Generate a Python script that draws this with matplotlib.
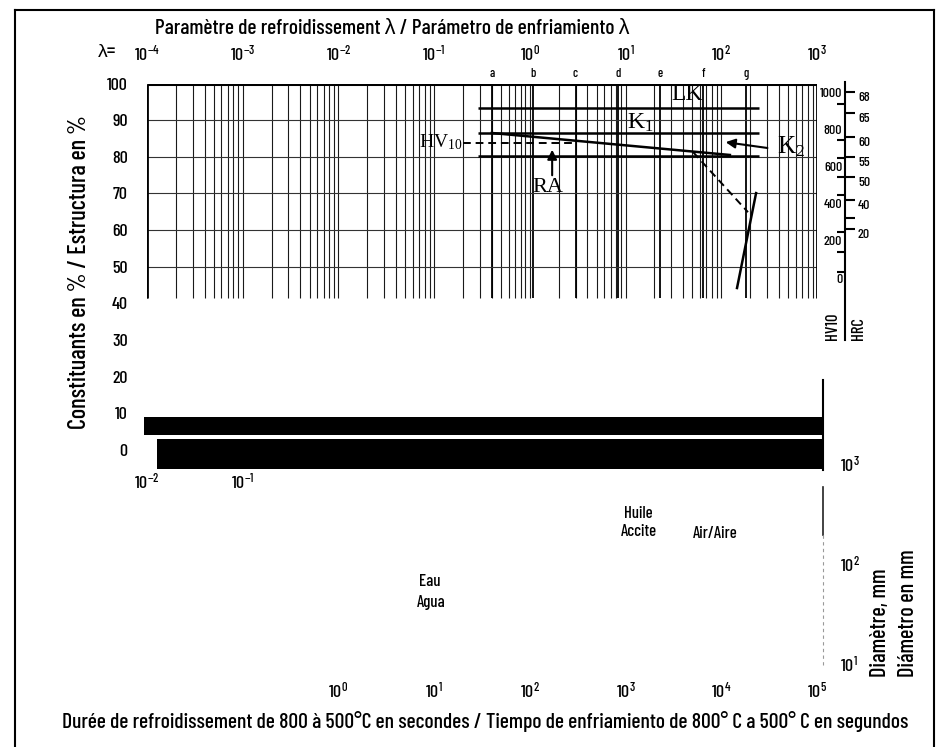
import numpy as np
import matplotlib
matplotlib.use("Agg")
import matplotlib.pyplot as plt
from matplotlib.ticker import LogLocator, FixedLocator, NullLocator
from matplotlib.transforms import blended_transform_factory
from matplotlib.lines import Line2D

plt.rcParams['font.family'] = ['Barlow Condensed', 'Liberation Sans', 'DejaVu Sans']
plt.rcParams['font.weight'] = 'medium'
plt.rcParams['mathtext.default'] = 'regular'

W, H = 940, 747

def fx(x):
    return x / W

def fy(y):
    return 1 - y / H

# --- Daten ---
lam_decades = [1e-4, 1e-3, 1e-2, 1e-1, 1e0, 1e1, 1e2, 1e3]
lam_labels = ['$10^{-4}$', '$10^{-3}$', '$10^{-2}$', '$10^{-1}$', '$10^{0}$', '$10^{1}$', '$10^{2}$', '$10^{3}$']
y_ticks = [0, 10, 20, 30, 40, 50, 60, 70, 80, 90, 100]
grid_y = [50, 60, 70, 80, 90]

letters = ['a', 'b', 'c', 'd', 'e', 'f', 'g']
letter_lam = [0.40, 1.08, 3.0, 8.4, 23, 65, 180]

# Linien LK / K1 / K2 (Grenzen)
zone_levels = [93.3, 86.5, 80.2]
zone_lam = [0.29, 250]

# Kurven
slope_lam = [0.40, 123]
slope_val = [86.5, 80.5]
hv_dash_lam = [0.20, 2.97]
hv_dash_val = [83.8, 83.8]
drop_lam = [50.7, 190]
drop_val = [81.3, 64.9]
steep_lam = [146, 231]
steep_val = [44.2, 70.1]

# Schwarze Balken (Scan)
band_lam0 = [10 ** -4.03, 10 ** -3.9]
band_lam1 = [1.13e3, 1.13e3]
band_top = [9.0, 3.0]
band_bot = [4.1, -5.2]

# Zeitachse (s) = lambda * 100
time_decades_low = [1e-2, 1e-1]
time_labels_low = ['$10^{-2}$', '$10^{-1}$']
time_decades = [1e0, 1e1, 1e2, 1e3, 1e4, 1e5]
time_labels = ['$10^{0}$', '$10^{1}$', '$10^{2}$', '$10^{3}$', '$10^{4}$', '$10^{5}$']

# Haerte-Skalen
hv_major = [0, 200, 400, 600, 800, 1000]
hv_minor = [1000, 935, 742, 645, 543, 446, 247, 140, 32]
hrc_pos = [1000, 887, 758, 650, 543, 419, 323, 263]
hrc_labels = ['68', '65', '60', '55', '50', '40', '', '20']

# Durchmesser
dia_ticks = [1e1, 1e2, 1e3]
dia_labels = ['$10^{1}$', '$10^{2}$', '$10^{3}$']

fig = plt.figure(figsize=(9.4, 7.47), dpi=100)

# Rahmen
for seg in [([15, 15], [10, 747]), ([15, 934], [10, 10]), ([934, 934], [10, 747])]:
    fig.add_artist(Line2D([fx(v) for v in seg[0]], [fy(v) for v in seg[1]], color='black', lw=1.5))

ax = fig.add_axes([fx(147), fy(472), (817 - 147) / W, (472 - 83.5) / H])
ax.set_xscale('log')
ax.set_xlim(1e-4, 1e3)
ax.set_ylim(-6, 100)
for s in ax.spines.values():
    s.set_visible(False)
ax.xaxis.set_major_locator(NullLocator())
ax.xaxis.set_minor_locator(NullLocator())
ax.set_yticks(y_ticks)
ax.tick_params(axis='y', length=0, pad=14, labelsize=13)
ax.patch.set_alpha(0)

# Gitter
gpos = LogLocator(base=10, subs=np.arange(1, 10)).tick_values(1e-4, 1e3)
gpos = gpos[(gpos >= 1e-4) & (gpos <= 1e3)]
ax.vlines(gpos, 41.6, 100, color='#1a1a1a', lw=0.8)
ax.vlines(letter_lam, 41.6, 100, color='black', lw=1.3)
ax.hlines(grid_y, 1e-4, 1e3, color='#333333', lw=0.8)
ax.hlines(100, 1e-4, 1e3, color='black', lw=2.2)
ax.vlines([1e-4, 1e3], 41.6, 100, color='black', lw=2)

# Zonen
ax.hlines(zone_levels, zone_lam[0], zone_lam[1], color='black', lw=1.8)
ax.plot(slope_lam, slope_val, color='black', lw=1.8)
ax.plot(hv_dash_lam, hv_dash_val, color='black', lw=1.4, dashes=(4, 2.5))
ax.plot(drop_lam, drop_val, color='black', lw=1.4, dashes=(4, 2.5))
ax.plot(steep_lam, steep_val, color='black', lw=1.8)

# Balken
for l0, l1, t, b in zip(band_lam0, band_lam1, band_top, band_bot):
    ax.fill_between([l0, l1], [b, b], [t, t], color='black', lw=0, clip_on=False)

# Beschriftungen im Diagramm
serif = 'Liberation Serif'
ax.text(44, 96.9, 'LK', family=serif, fontsize=17, ha='center', va='center')
ax.text(14.1, 89.2, 'K$_1$', family=serif, fontsize=17, ha='center', va='center')
ax.text(383, 82.7, 'K$_2$', family=serif, fontsize=18, ha='left', va='center', clip_on=False)
ax.text(0.196, 84.0, 'HV$_{10}$', family=serif, fontsize=14, ha='right', va='center')
ax.text(1.55, 71.5, 'RA', family=serif, fontsize=16, ha='center', va='center')
ax.annotate('', xy=(1.71, 82.7), xytext=(1.71, 74.2),
            arrowprops=dict(arrowstyle='-|>', color='black', lw=1.5, mutation_scale=14))
ax.annotate('', xy=(104, 84.1), xytext=(324, 82.3), annotation_clip=False,
            arrowprops=dict(arrowstyle='-|>', color='black', lw=1.5, mutation_scale=14))

for l, t in zip(letter_lam, letters):
    ax.text(l, 102.6, t, fontsize=9, ha='center', va='center', clip_on=False)

bt = blended_transform_factory(ax.transData, fig.transFigure)
for d, t in zip(lam_decades, lam_labels):
    ax.text(d, fy(53), t, transform=bt, fontsize=13, ha='center', va='center')
for d, t in zip(time_decades_low, time_labels_low):
    ax.text(d / 100, fy(481), t, transform=bt, fontsize=13, ha='center', va='center')
for d, t in zip(time_decades, time_labels):
    ax.text(d / 100, fy(690), t, transform=bt, fontsize=13, ha='center', va='center')

fig.text(fx(107), fy(52), 'λ=', fontsize=14, ha='center', va='center')
fig.text(fx(392), fy(28), 'Paramètre de refroidissement λ / Parámetro de enfriamiento λ',
         fontsize=15.5, ha='center', va='center')
fig.text(fx(485), fy(722), 'Durée de refroidissement de 800 à 500°C en secondes / '
         'Tiempo de enfriamiento de 800° C a 500° C en segundos', fontsize=15.5, ha='center', va='center')
fig.text(fx(80), fy(272), 'Constituants en % / Estructura en %', fontsize=17.5,
         rotation=90, ha='center', va='center')

fig.text(fx(638), fy(513), 'Huile', fontsize=12, ha='center', va='center')
fig.text(fx(639), fy(531), 'Accite', fontsize=12, ha='center', va='center')
fig.text(fx(715), fy(533), 'Air/Aire', fontsize=12, ha='center', va='center')
fig.text(fx(430), fy(582), 'Eau', fontsize=12, ha='center', va='center')
fig.text(fx(431), fy(602), 'Agua', fontsize=12, ha='center', va='center')

# HV10 / HRC Skala
ax_hv = fig.add_axes([fx(845), fy(340), 0.0005, (340 - 82) / H])
ax_hv.set_ylim(-333, 1054)
for k, s in ax_hv.spines.items():
    s.set_visible(k == 'left')
ax_hv.spines['left'].set_linewidth(1.5)
ax_hv.set_xticks([])
ax_hv.yaxis.set_major_locator(FixedLocator(hv_major))
ax_hv.yaxis.set_minor_locator(FixedLocator(hv_minor))
ax_hv.tick_params(axis='y', which='major', length=0, labelsize=10, pad=2)
ax_hv.tick_params(axis='y', which='minor', length=6, width=1.5)
ax_hv.patch.set_alpha(0)

ax_hrc = fig.add_axes([fx(845), fy(340), 0.0005, (340 - 82) / H])
ax_hrc.set_ylim(-333, 1054)
for s in ax_hrc.spines.values():
    s.set_visible(False)
ax_hrc.set_xticks([])
ax_hrc.yaxis.tick_right()
ax_hrc.set_yticks(hrc_pos)
ax_hrc.set_yticklabels(hrc_labels, va='top')
ax_hrc.tick_params(axis='y', length=7, width=1.5, labelsize=10, pad=2)
ax_hrc.patch.set_alpha(0)

fig.text(fx(833), fy(340), 'HV10', fontsize=12, rotation=90, ha='center', va='bottom')
fig.text(fx(858), fy(340), 'HRC', fontsize=12, rotation=90, ha='center', va='bottom')

# Durchmesser-Skala
ax_d = fig.add_axes([fx(823), fy(670), 0.0005, (670 - 380) / H])
ax_d.set_yscale('log')
ax_d.set_ylim(10 ** 0.93, 10 ** 3.83)
ax_d.set_xlim(0, 1)
for s in ax_d.spines.values():
    s.set_visible(False)
ax_d.set_xticks([])
ax_d.yaxis.tick_right()
ax_d.yaxis.set_major_locator(FixedLocator(dia_ticks))
ax_d.yaxis.set_minor_locator(NullLocator())
ax_d.set_yticklabels(dia_labels)
ax_d.tick_params(axis='y', length=0, labelsize=13, pad=12)
ax_d.patch.set_alpha(0)
ax_d.plot([0.5, 0.5], [10 ** 3.83, 10 ** 2.93], color='black', lw=1.5, clip_on=False)
ax_d.plot([0.5, 0.5], [10 ** 2.76, 10 ** 2.28], color='#222222', lw=1.2, clip_on=False)
ax_d.plot([0.5, 0.5], [10 ** 2.28, 10 ** 0.98], color='#999999', lw=0.8, dashes=(3, 3), clip_on=False)

fig.text(fx(880), fy(677), 'Diamètre, mm', fontsize=16, rotation=90, ha='center', va='bottom')
fig.text(fx(908), fy(677), 'Diámetro en mm', fontsize=16, rotation=90, ha='center', va='bottom')

fig.savefig('out.png', dpi=100)
